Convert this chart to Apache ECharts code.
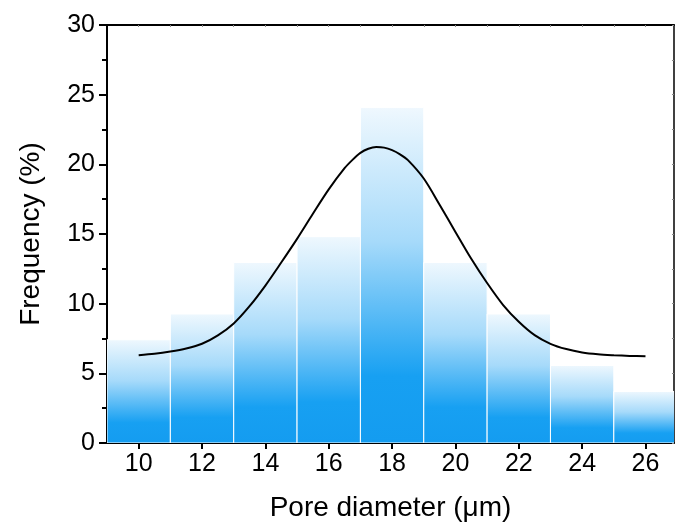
<!DOCTYPE html>
<html>
<head>
<meta charset="utf-8">
<script src="https://cdn.jsdelivr.net/npm/echarts@6/dist/echarts.min.js"></script>
<style>
  html, body { margin: 0; padding: 0; background: #fff; }
  #chart { width: 675px; height: 523px; }
</style>
</head>
<body>
<div id="chart"></div>
<script>
// Histogram bin centres (µm) and their frequencies (%)
const binCenters = [10, 12, 14, 16, 18, 20, 22, 24, 26];
const frequencies = [7.41, 9.26, 12.96, 14.81, 24.07, 12.96, 9.26, 5.56, 3.70];
const binWidth = 2;

// Fitted distribution curve, sampled along the diameter axis
const fitX = [10, 10.5, 11, 11.5, 12, 12.5, 13, 13.5, 14, 14.5, 15, 15.5, 16, 16.5, 16.75, 17, 17.25, 17.5, 17.75, 18, 18.25, 18.5, 19, 19.5, 20, 20.5, 21, 21.5, 22, 22.5, 23, 23.5, 24, 24.5, 25, 25.5, 26];
const fitY = [6.30, 6.40, 6.56, 6.78, 7.12, 7.72, 8.58, 9.82, 11.30, 12.95, 14.65, 16.45, 18.20, 19.72, 20.32, 20.82, 21.12, 21.24, 21.20, 21.02, 20.72, 20.30, 18.98, 17.10, 15.15, 13.22, 11.48, 9.92, 8.70, 7.74, 7.12, 6.74, 6.50, 6.37, 6.30, 6.25, 6.22];

// X tick labels
const xTicks = [10, 12, 14, 16, 18, 20, 22, 24, 26];

const fontFamily = '"Liberation Sans", Arial, sans-serif';

const barGradient = new echarts.graphic.LinearGradient(0, 0, 0, 1, [
  { offset: 0, color: '#eff8fe' },
  { offset: 0.4, color: '#a6dafa' },
  { offset: 0.8, color: '#17a0f2' },
  { offset: 1, color: '#149cf0' }
]);

const chart = echarts.init(document.getElementById('chart'), null, { renderer: 'canvas' });

chart.setOption({
  backgroundColor: '#ffffff',
  animation: false,
  grid: { left: 107, right: 1, top: 25, bottom: 80, containLabel: false, outerBoundsMode: 'none' },
  xAxis: [
    {
      type: 'value',
      min: 9,
      max: 26.9,
      position: 'bottom',
      name: 'Pore diameter (μm)',
      nameLocation: 'middle',
      nameGap: 51,
      nameTextStyle: { fontSize: 28, color: '#000', fontFamily },
      axisLine: { show: true, onZero: false, lineStyle: { color: '#000', width: 2 } },
      axisTick: { show: true, inside: false, length: 6, customValues: xTicks, lineStyle: { color: '#000', width: 2 } },
      axisLabel: { customValues: xTicks, margin: 9, fontSize: 25, color: '#000', fontFamily },
      splitLine: { show: false }
    },
    {
      type: 'value',
      min: 9,
      max: 26.9,
      position: 'top',
      axisLine: { show: true, onZero: false, lineStyle: { color: '#000', width: 2 } },
      axisTick: { show: true, inside: true, length: 2, customValues: [10, 11, 12, 13, 14, 15, 16, 17, 18, 19, 20, 21, 22, 23, 24, 25, 26], lineStyle: { color: '#888', width: 1 } },
      axisLabel: { show: false },
      splitLine: { show: false }
    }
  ],
  yAxis: [
    {
      type: 'value',
      min: 0,
      max: 30,
      interval: 5,
      position: 'left',
      name: 'Frequency (%)',
      nameLocation: 'middle',
      nameGap: 62,
      nameTextStyle: { fontSize: 28, color: '#000', fontFamily },
      axisLine: { show: true, onZero: false, lineStyle: { color: '#000', width: 2 } },
      axisTick: { show: true, inside: false, length: 8, lineStyle: { color: '#000', width: 2 } },
      minorTick: { show: true, splitNumber: 2, length: 5, lineStyle: { color: '#000', width: 2 } },
      axisLabel: { margin: 12, fontSize: 25, color: '#000', fontFamily },
      splitLine: { show: false }
    },
    {
      type: 'value',
      min: 0,
      max: 30,
      interval: 5,
      position: 'right',
      axisLine: { show: true, onZero: false, lineStyle: { color: '#000', width: 1.5 } },
      axisTick: { show: true, inside: true, length: 2, lineStyle: { color: '#888', width: 1 } },
      minorTick: { show: true, splitNumber: 2, length: 2, lineStyle: { color: '#888', width: 1 } },
      axisLabel: { show: false },
      splitLine: { show: false }
    }
  ],
  series: [
    {
      name: 'Frequency',
      type: 'custom',
      xAxisIndex: 0,
      yAxisIndex: 0,
      clip: true,
      data: binCenters.map((c, i) => [c, frequencies[i]]),
      renderItem: function (params, api) {
        const c = api.value(0);
        const v = api.value(1);
        const p0 = api.coord([c - binWidth / 2, v]);
        const p1 = api.coord([c + binWidth / 2, 0]);
        const rect = { x: p0[0], y: p0[1], width: p1[0] - p0[0], height: p1[1] - p0[1] };
        const cs = params.coordSys;
        return {
          type: 'rect',
          shape: rect,
          clipPath: { type: 'rect', shape: { x: cs.x, y: cs.y, width: cs.width, height: cs.height } },
          style: { fill: barGradient, stroke: '#ffffff', lineWidth: 1 }
        };
      },
      z: 2
    },
    {
      name: 'Fit',
      type: 'line',
      xAxisIndex: 0,
      yAxisIndex: 0,
      data: fitX.map((x, i) => [x, fitY[i]]),
      smooth: 0.3,
      symbol: 'none',
      lineStyle: { color: '#000', width: 2 },
      z: 3
    }
  ]
});
</script>
</body>
</html>
